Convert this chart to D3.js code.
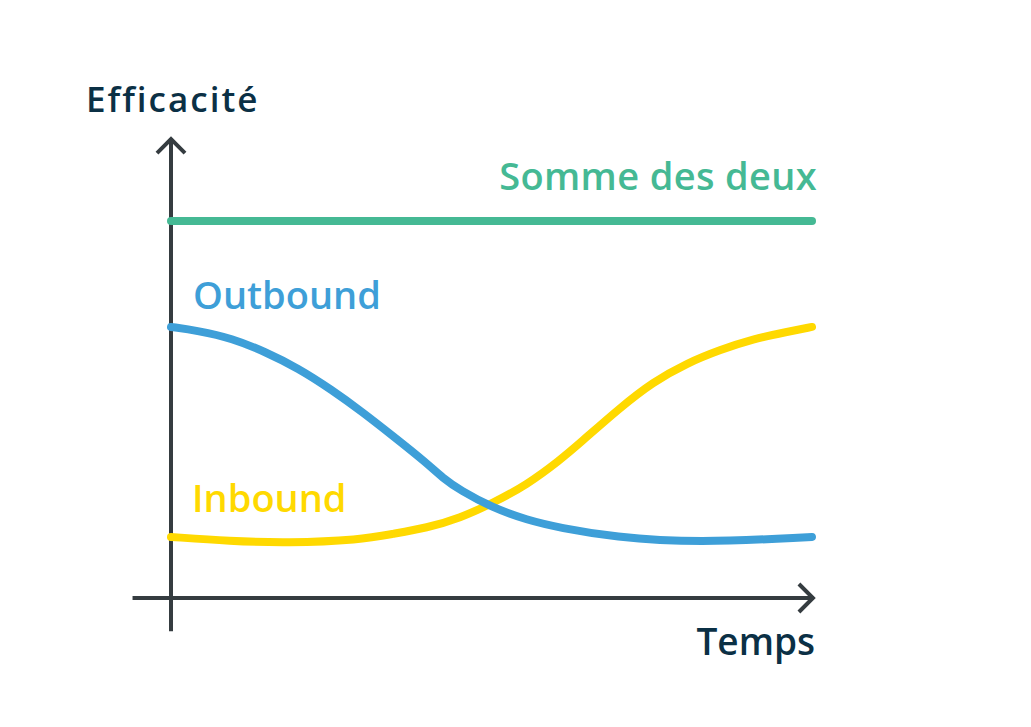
<!DOCTYPE html>
<html><head><meta charset="utf-8">
<script src="https://cdn.jsdelivr.net/npm/d3@7/dist/d3.min.js"></script>
<style>html,body{margin:0;padding:0;background:#fff;}svg{display:block;}</style>
</head><body><svg id="c" width="1031" height="727"></svg>
<script>
// Data (x: temps 0–100, y: efficacité 0–100)
const outboundX = [0, 4.2, 9.5, 14.7, 19.8, 25.1, 29.8, 34.6, 39.9, 42.4, 45.1, 50.2, 55.5, 60.7, 69.0, 82.1, 100];
const outboundY = [71.9, 70.9, 68.9, 65.3, 61.0, 55.2, 49.4, 43.0, 35.8, 31.8, 28.6, 23.9, 20.7, 18.6, 16.2, 14.6, 16.2];
const inboundX = [0, 9.2, 18.1, 29.5, 34.6, 39.9, 45.1, 50.2, 55.5, 60.7, 63.8, 70.0, 75.2, 80.5, 85.6, 90.8, 96.1, 100];
const inboundY = [16.2, 15.1, 14.6, 15.4, 17.0, 18.6, 21.2, 25.2, 30.0, 36.6, 41.1, 50.4, 57.3, 62.3, 65.8, 68.7, 70.6, 71.9];
const sommeX = [0, 100];
const sommeY = [100, 100];
const seriesNames = ["Somme des deux", "Outbound", "Inbound"];
const axisLabels = ["Efficacité", "Temps"];

const svg = d3.select("#c");
const x = d3.scaleLinear().domain([0, 100]).range([171, 812]);
const y = d3.scaleLinear().domain([0, 100]).range([598, 221]);
const font = "'Open Sans', sans-serif";
const axisCol = "#353c40", textCol = "#0b3045";

// axes
const ax = svg.append("g").attr("stroke", axisCol).attr("stroke-width", 4).attr("fill", "none").attr("stroke-linecap", "butt");
ax.append("line").attr("x1", x(0)).attr("x2", x(0)).attr("y1", y(-8.8)).attr("y2", y(122));
ax.append("line").attr("x1", x(-6)).attr("x2", x(100.3)).attr("y1", y(0)).attr("y2", y(0));
ax.append("path").attr("d", `M${x(0)-14},${y(122)+15}L${x(0)},${y(122)+1}L${x(0)+14},${y(122)+15}`);
ax.append("path").attr("d", `M${x(100.3)-15},${y(0)-14}L${x(100.3)-1},${y(0)}L${x(100.3)-15},${y(0)+14}`);

const line = d3.line().x(d => x(d[0])).y(d => y(d[1])).curve(d3.curveBasis);
const series = [
  {name: seriesNames[0], xs: sommeX, ys: sommeY, color: "#45b994"},
  {name: seriesNames[1], xs: outboundX, ys: outboundY, color: "#3e9fd8"},
  {name: seriesNames[2], xs: inboundX, ys: inboundY, color: "#ffd900"}
];
[series[0], series[2], series[1]].forEach(s => {
  svg.append("path").datum(d3.zip(s.xs, s.ys)).attr("d", line)
    .attr("fill", "none").attr("stroke", s.color).attr("stroke-width", 8).attr("stroke-linecap", "round");
});

function label(t, xx, yy, col, size, anchor, ls) {
  svg.append("text").text(t).attr("x", xx).attr("y", yy).attr("text-anchor", anchor || "start")
    .attr("fill", col).style("font-family", font).style("font-size", size + "px")
    .style("font-weight", 600).style("letter-spacing", (ls || 0) + "px");
}
label(seriesNames[0], 817, 190, "#45b994", 38, "end", 0.35);
label(seriesNames[1], 193, 309, "#3e9fd8", 38);
label(seriesNames[2], 192, 512, "#ffd900", 38);
label(axisLabels[0], 86, 112, textCol, 35, "start", 2);
label(axisLabels[1], 815, 655, textCol, 37, "end");
</script></body></html>
